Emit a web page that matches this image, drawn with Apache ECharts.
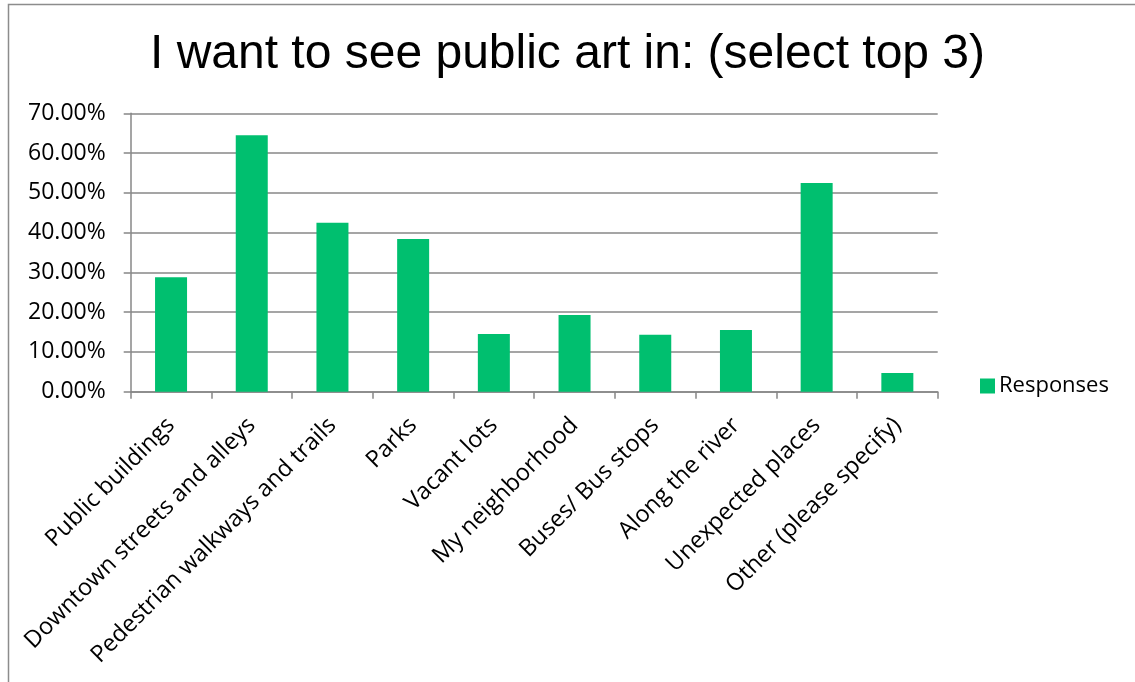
<!DOCTYPE html>
<html>
<head>
<meta charset="utf-8">
<script src="https://cdn.jsdelivr.net/npm/echarts@6/dist/echarts.min.js"></script>
<style>
  html, body { margin: 0; padding: 0; background: #ffffff; }
  #chart { width: 1135px; height: 682px; }
</style>
</head>
<body>
<div id="chart"></div>
<script>
// Survey question and answer categories
const titleText = 'I want to see public art in: (select top 3)';
const categories = [
  'Public buildings',
  'Downtown streets and alleys',
  'Pedestrian walkways and trails',
  'Parks',
  'Vacant lots',
  'My neighborhood',
  'Buses/ Bus stops',
  'Along the river',
  'Unexpected places',
  'Other (please specify)'
];
// Share of respondents choosing each place (%)
const responses = [28.8, 64.5, 42.5, 38.4, 14.5, 19.3, 14.3, 15.5, 52.5, 4.7];
const seriesName = 'Responses';
// Value axis range
const yMin = 0;
const yMax = 70;
const yStep = 10;

const chart = echarts.init(document.getElementById('chart'), null, { renderer: 'canvas' });
const axisGray = '#878787';
const labelFont = '"Open Sans", "DejaVu Sans", sans-serif';

chart.setOption({
  animation: false,
  backgroundColor: '#ffffff',
  graphic: [
    {
      type: 'rect',
      shape: { x: 8.5, y: 4.5, width: 1200, height: 800 },
      style: { fill: 'none', stroke: '#8c8c8c', lineWidth: 1.5 },
      silent: true
    },
    {
      type: 'text',
      left: 'center',
      top: 31,
      style: {
        text: titleText,
        font: '48px "Liberation Sans", Arial, sans-serif',
        fill: '#000000'
      }
    }
  ],
  grid: {
    left: 130.7,
    right: 197.3,
    top: 113.3,
    bottom: 290.3,
    containLabel: false
  },
  legend: {
    data: [seriesName],
    left: 975,
    top: 370,
    itemWidth: 15,
    itemHeight: 15,
    itemGap: 8,
    icon: 'rect',
    textStyle: { fontFamily: labelFont, fontSize: 22, color: '#000000', padding: [0, 0, 0, -1] }
  },
  xAxis: {
    type: 'category',
    data: categories,
    boundaryGap: true,
    axisLine: { show: true, lineStyle: { color: axisGray, width: 1.5 } },
    axisTick: { show: true, length: 7, lineStyle: { color: axisGray, width: 1.5 } },
    axisLabel: {
      rotate: 45,
      interval: 0,
      margin: 30,
      fontFamily: labelFont,
      fontSize: 23.5,
      color: '#000000'
    },
    splitLine: { show: false }
  },
  yAxis: {
    type: 'value',
    min: yMin,
    max: yMax,
    interval: yStep,
    axisLine: { show: true, lineStyle: { color: axisGray, width: 1.5 } },
    axisTick: { show: true, length: 7, lineStyle: { color: axisGray, width: 1.5 } },
    axisLabel: {
      margin: 25,
      fontFamily: labelFont,
      fontSize: 23,
      color: '#000000',
      formatter: v => v.toFixed(2) + '%'
    },
    splitLine: { show: true, lineStyle: { color: axisGray, width: 1.5 } }
  },
  series: [
    {
      name: seriesName,
      type: 'bar',
      data: responses,
      barWidth: 32,
      itemStyle: { color: '#00BF6F' }
    }
  ]
});
</script>
</body>
</html>
